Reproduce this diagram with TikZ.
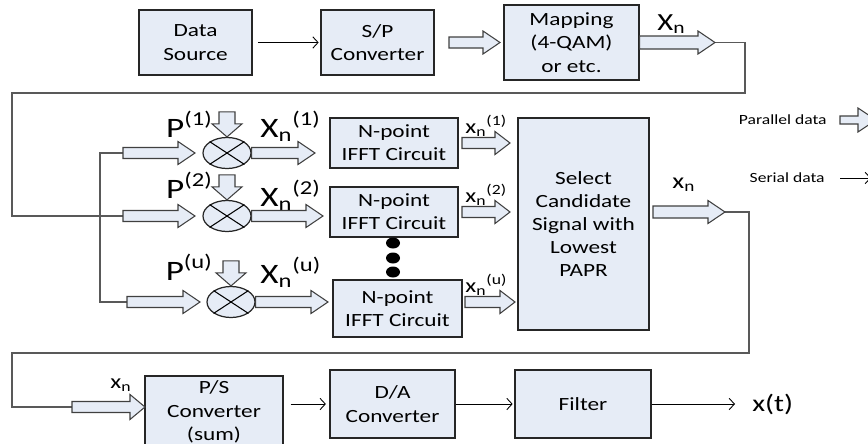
\documentclass[tikz,border=0pt]{standalone}
\usepackage{fontspec}
\setmainfont{Carlito}[FakeStretch=1.25]
\usetikzlibrary{arrows.meta, positioning, calc, shapes.geometric}

\definecolor{boxfill}{RGB}{230,236,246}

\tikzset{
  fatw/.store in=\fatw, fatW/.store in=\fatW, fath/.store in=\fath,
  fatw=0.11cm, fatW=0.23cm, fath=0.34cm,
  % hollow block arrow from the start point to the target point
  fat/.style={draw=black!75, fill=boxfill, line width=0.6pt, line join=miter,
    to path={($(\tikztostart)!\fatw!90:(\tikztotarget)$)
      -- ($(\tikztotarget)!\fath!(\tikztostart)!\fatw!-90:(\tikztostart)$)
      -- ($(\tikztotarget)!\fath!(\tikztostart)!\fatW!-90:(\tikztostart)$)
      -- (\tikztotarget)
      -- ($(\tikztotarget)!\fath!(\tikztostart)!\fatW!90:(\tikztostart)$)
      -- ($(\tikztotarget)!\fath!(\tikztostart)!\fatw!90:(\tikztostart)$)
      -- ($(\tikztostart)!\fatw!-90:(\tikztotarget)$) -- cycle}}
}

\begin{document}
\begin{tikzpicture}[x=0.02cm, y=-0.02cm,
    box/.style={draw=black!85, line width=0.7pt, fill=boxfill, align=center,
        inner sep=1pt, font=\fontsize{10.6}{13.2}\selectfont},
    mult/.style={ellipse, draw=black!85, line width=0.7pt, fill=boxfill,
        minimum width=0.96cm, minimum height=0.62cm, inner sep=0pt},
    thin/.style={-{Straight Barb[length=3pt, width=6.5pt]}, line width=0.5pt},
    wire/.style={draw=black!65, line width=0.8pt},
    bigl/.style={font=\fontsize{16}{16}\selectfont, inner sep=0pt},
    midl/.style={font=\fontsize{11.5}{12}\selectfont, inner sep=0pt},
    smll/.style={font=\fontsize{8}{9}\selectfont, inner sep=0pt}
]
\useasboundingbox (0,0) rectangle (868,443);
\clip (0,0) rectangle (868,443);

% source, S/P and mapper
\node[box, minimum width=2.26cm, minimum height=1.3cm] (src) at (195.5,42.5) {Data\\Source};
\node[box, minimum width=2.26cm, minimum height=1.3cm] (sp) at (377.5,42.5) {S/P\\Converter};
\node[box, minimum width=2.7cm, minimum height=1.5cm] (map) at (571.5,42.5) {Mapping\\(4-QAM)\\or etc.};
\node[font=\fontsize{14}{14}\selectfont, inner sep=0pt, anchor=base west] (xmap) at (657,30) {X\textsubscript{n}};

% phase multipliers
\node[mult] (m1) at (227,153) {};
\node[mult] (m2) at (227,216) {};
\node[mult] (m3) at (231,302) {};
\foreach \m in {m1,m2,m3}
    \draw[line width=0.6pt] (\m.north west) -- (\m.south east) (\m.north east) -- (\m.south west);

\node[bigl, anchor=base east] (pl1) at (213,137) {P\textsuperscript{(1)}};
\node[bigl, anchor=base east] (pl2) at (213,198) {P\textsuperscript{(2)}};
\node[bigl, anchor=base east] (pl3) at (213,280) {P\textsuperscript{(u)}};
\node[bigl, anchor=base west] (xl1) at (260,137) {X\textsubscript{n}\textsuperscript{(1)}};
\node[bigl, anchor=base west] (xl2) at (260,206) {X\textsubscript{n}\textsuperscript{(2)}};
\node[bigl, anchor=base west] (xl3) at (260,283) {X\textsubscript{n}\textsuperscript{(u)}};

% IFFT branches and selector
\node[box, minimum width=2.56cm, minimum height=1.0cm] (ifft1) at (394,143) {N-point\\IFFT Circuit};
\node[box, minimum width=2.56cm, minimum height=1.0cm] (ifft2) at (394,212) {N-point\\IFFT Circuit};
\node[box, minimum width=2.58cm, minimum height=1.14cm] (ifft3) at (397.5,308.5) {N-point\\IFFT Circuit};
\foreach \y in {243,258,272}
    \fill (393,\y) ellipse [x radius=0.14cm, y radius=0.11cm];

\node[midl, anchor=base west] (xs1) at (465,133) {x\textsubscript{n}\textsuperscript{(1)}};
\node[midl, anchor=base west] (xs2) at (465,202) {x\textsubscript{n}\textsuperscript{(2)}};
\node[midl, anchor=base west] (xs3) at (465,292) {x\textsubscript{n}\textsuperscript{(u)}};

\node[box, minimum width=2.62cm, minimum height=4.24cm] (sel) at (583.5,224)
    {Select\\Candidate\\Signal with\\Lowest\\PAPR};
\node[font=\fontsize{12.5}{13}\selectfont, inner sep=0pt, anchor=base west] (xsel) at (672,188) {x\textsubscript{n}};

% back end
\node[box, minimum width=2.76cm, minimum height=1.44cm] (ps) at (214,412) {P/S\\Converter\\(sum)};
\node[box, minimum width=2.5cm, minimum height=1.36cm] (da) at (392.5,404) {D/A\\Converter};
\node[box, minimum width=2.72cm, minimum height=1.36cm] (filt) at (583,404) {Filter};
\node[midl, anchor=base west] (xps) at (110,388) {x\textsubscript{n}};

% free ends of the wide arrows
\coordinate (spout) at (449,42.5);
\coordinate (mapin) at (500,42.5);
\coordinate (mapout) at (715,42.5);
\coordinate (in1) at (123,153);  \coordinate (in1t) at (195,153);
\coordinate (in2) at (123,216);  \coordinate (in2t) at (195,216);
\coordinate (in3) at (127,302);  \coordinate (in3t) at (200,302);
\coordinate (p1) at ($(m1.north)+(0,-25)$);
\coordinate (p2) at ($(m2.north)+(0,-25)$);
\coordinate (p3) at ($(m3.north)+(0,-25)$);
\coordinate (mo1) at (315,153);
\coordinate (mo2) at (323,216);
\coordinate (mo3) at (328,302);
\coordinate (fo1) at (462,143);  \coordinate (fo1t) at (510,143);
\coordinate (fo2) at (462,212);  \coordinate (fo2t) at (510,212);
\coordinate (fo3) at (465,302);  \coordinate (fo3t) at (515,302);
\coordinate (selout) at (653,212);  \coordinate (selt) at (725,212);
\coordinate (psin) at (72,407);  \coordinate (psint) at (145,407);
\coordinate (xt) at (735,404);

% wiring
\draw[wire] (mapout) -- (745,42.5) -- (745,93) -- (12,93) |- (in2);
\draw[wire] (in1) -- (100,153) -- (100,302) -- (in3);
\draw[wire] (selt) -- (749,212) -- (749,353) -- (12,353) |- (psin);

% wide arrows
\draw[fat] (spout) to (mapin);
\draw[fat, fatw=0.13cm] (map.east) to (mapout);
\draw[fat] (in1) to (in1t);
\draw[fat] (in2) to (in2t);
\draw[fat] (in3) to (in3t);
\draw[fat, fatw=0.16cm, fatW=0.3cm, fath=0.26cm] (p1) to (m1.north);
\draw[fat, fatw=0.16cm, fatW=0.3cm, fath=0.26cm] (p2) to (m2.north);
\draw[fat, fatw=0.16cm, fatW=0.3cm, fath=0.26cm] (p3) to (m3.north);
\draw[fat] (m1.east) to (mo1);
\draw[fat] (m2.east) to (mo2);
\draw[fat] (m3.east) to (mo3);
\draw[fat, fath=0.3cm] (fo1) to (fo1t);
\draw[fat, fath=0.3cm] (fo2) to (fo2t);
\draw[fat, fath=0.3cm] (fo3) to (fo3t);
\draw[fat, fatw=0.12cm] (selout) to (selt);
\draw[fat, fatW=0.25cm, fath=0.3cm] (psin) to (psint);

% thin arrows
\draw[thin, shorten <=3pt, shorten >=1pt] (src) -- (sp);
\draw[thin, shorten <=4pt, shorten >=2pt] (ps.east |- da) -- (da.west);
\draw[thin, shorten >=1pt] (da) -- (filt);
\draw[thin] (filt) -- (xt);
\node[font=\fontsize{13.5}{14}\selectfont, inner sep=0pt, right=0.34cm of xt] (xtl) {x(t)};

% key
\coordinate (lp) at (840,120);  \coordinate (lpt) at (876,120);
\coordinate (ls) at (840,178);  \coordinate (lst) at (871,178);
\draw[fat, fatw=0.08cm, fatW=0.24cm, fath=0.36cm] (lp) to (lpt);
\draw[thin] (ls) -- (lst);
\node[smll, left=0.26cm of lp] (lpl) {Parallel data};
\node[smll, left=0.3cm of ls] (lsl) {Serial data};

\end{tikzpicture}
\end{document}
